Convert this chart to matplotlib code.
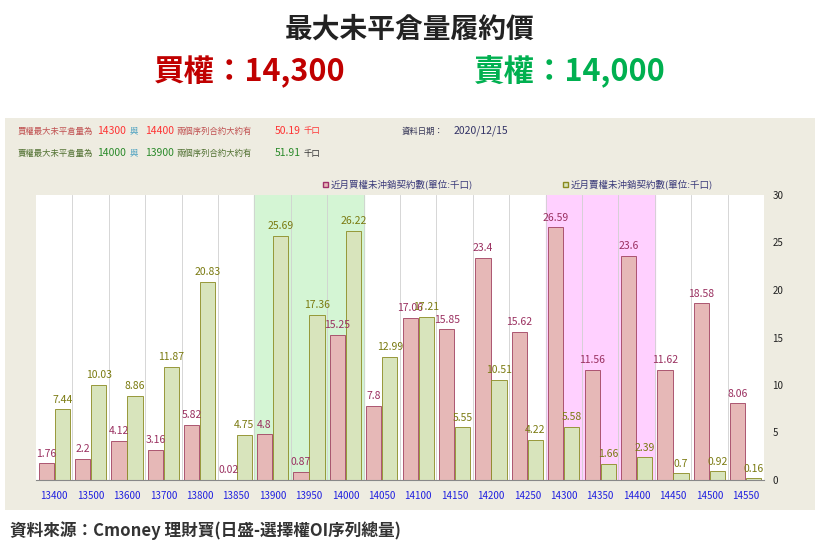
import matplotlib
matplotlib.use("Agg")
import matplotlib.pyplot as plt
from matplotlib.patches import Rectangle
import numpy as np

plt.rcParams['font.family'] = ['Noto Sans CJK JP', 'Noto Sans CJK TC', 'Noto Sans CJK SC', 'DejaVu Sans']

strikes = ["13400","13500","13600","13700","13800","13850","13900","13950","14000","14050",
           "14100","14150","14200","14250","14300","14350","14400","14450","14500","14550"]
calls = [1.76,2.2,4.12,3.16,5.82,0.02,4.8,0.87,15.25,7.8,17.06,15.85,23.4,15.62,26.59,11.56,23.6,11.62,18.58,8.06]
puts = [7.44,10.03,8.86,11.87,20.83,4.75,25.69,17.36,26.22,12.99,17.21,5.55,10.51,4.22,5.58,1.66,2.39,0.7,0.92,0.16]
yticks = [0,5,10,15,20,25,30]

W, H = 820, 556
fig = plt.figure(figsize=(W/100, H/100), dpi=100)
fig.patch.set_facecolor('white')

def fx(x): return x / W
def fy(y): return 1 - y / H

bg = fig.add_axes([fx(5), fy(510), 810/W, 392/H], zorder=0)
bg.set_facecolor('#eeece1'); bg.set_xticks([]); bg.set_yticks([])
for s in bg.spines.values(): s.set_visible(False)

fig.text(0.5, fy(30), "最大未平倉量履約價", ha='center', va='center', fontsize=20, fontweight='bold', color='#222222')
fig.text(fx(250), fy(72), "買權：14,300", ha='center', va='center', fontsize=22, fontweight='bold', color='#c00000')
fig.text(fx(570), fy(72), "賣權：14,000", ha='center', va='center', fontsize=22, fontweight='bold', color='#00b050')

red = '#ff3333'; grn = '#2a8a2a'
fs = 6.0
def row(y, lab_c, num_c, a, b, tot, unit_c, first):
    fig.text(fx(18), fy(y), first + "權最大未平倉量為", fontsize=fs, color=lab_c, va='center')
    fig.text(fx(97), fy(y), a, fontsize=7.5, color=num_c, va='center')
    fig.text(fx(130), fy(y), "與", fontsize=fs, color='#4aa0c0', va='center')
    fig.text(fx(145), fy(y), b, fontsize=7.5, color=num_c, va='center')
    fig.text(fx(176), fy(y), "兩個序列合約大約有", fontsize=fs, color=lab_c, va='center')
    fig.text(fx(275), fy(y), tot, fontsize=7.5, color=num_c, va='center')
    fig.text(fx(304), fy(y), "千口", fontsize=fs, color=unit_c, va='center')
row(131, '#c05050', red, "14300", "14400", "50.19", red, "買")
row(153, '#507030', grn, "14000", "13900", "51.91", '#333333', "賣")
fig.text(fx(402), fy(131), "資料日期：", fontsize=fs, color='#333355', va='center')
fig.text(fx(508), fy(131), "2020/12/15", fontsize=7.5, color='#333366', va='center', ha='right')

fig.patches.append(Rectangle((fx(323), fy(187)), 5/W, 5/H, transform=fig.transFigure,
                             facecolor='#e6b8b7', edgecolor='#a0306a', lw=1, zorder=5))
fig.text(fx(331), fy(184), "近月買權未沖銷契約數(單位:千口)", fontsize=6.8, color='#3a3a7a', va='center')
fig.patches.append(Rectangle((fx(563), fy(187)), 5/W, 5/H, transform=fig.transFigure,
                             facecolor='#d8e4bc', edgecolor='#8a8a20', lw=1, zorder=5))
fig.text(fx(571), fy(184), "近月賣權未沖銷契約數(單位:千口)", fontsize=6.8, color='#3a3a7a', va='center')

ax = fig.add_axes([fx(36), fy(480), (764-36)/W, (480-195)/H], zorder=2)
n = len(strikes)
x = np.arange(n)
ax.set_xlim(-0.5, n-0.5)
ax.set_ylim(0, 30)
ax.set_facecolor('white')
ax.axvspan(5.5, 8.5, color='#d4f5d4', zorder=0)
ax.axvspan(13.5, 16.5, color='#ffd0ff', zorder=0)
for b in np.arange(0.5, n-0.5, 1):
    ax.axvline(b, color='#d0d0d0', lw=0.6, zorder=0.5)
bw = 0.42
ax.bar(x-0.22, calls, bw, color='#e6b8b7', edgecolor='#a04060', lw=0.6, zorder=2)
ax.bar(x+0.22, puts, bw, color='#d8e4bc', edgecolor='#8a8a20', lw=0.6, zorder=2)
for i in range(n):
    ax.text(x[i]-0.22, calls[i]+0.5, f"{calls[i]:g}", ha='center', va='bottom', fontsize=7.5, color='#9a3060', zorder=3)
    ax.text(x[i]+0.22, puts[i]+0.5, f"{puts[i]:g}", ha='center', va='bottom', fontsize=7.5, color='#7a7a10', zorder=3)
ax.yaxis.tick_right()
ax.set_yticks(yticks)
ax.tick_params(axis='y', length=0, labelsize=7, colors='#222222', pad=6)
ax.set_xticks(x)
ax.set_xticklabels(strikes)
ax.tick_params(axis='x', length=0, labelsize=7, colors='#2020e0', pad=8)
for s in ['top', 'right', 'left']:
    ax.spines[s].set_visible(False)
ax.spines['bottom'].set_color('#888888')

fig.text(fx(10), fy(531), "資料來源：Cmoney 理財寶(日盛-選擇權OI序列總量)", fontsize=12, fontweight='bold', color='#333333', va='center')

fig.savefig("out.png", dpi=100)
